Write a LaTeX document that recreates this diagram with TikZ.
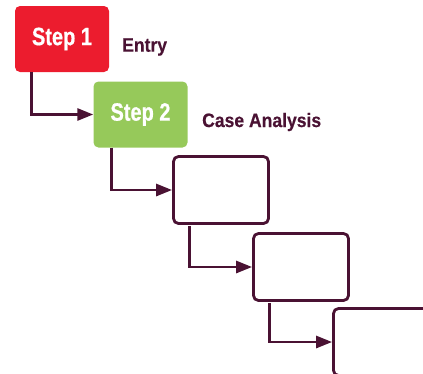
\documentclass[tikz,border=0pt]{standalone}
\usepackage{fontspec}
\setmainfont{Liberation Sans}
\newfontfamily\stepfont[FakeStretch=0.8,FakeBold=0.6]{Liberation Sans Bold}
\newfontfamily\labelfont[FakeStretch=0.9,FakeBold=0.4]{Liberation Sans Bold}
\usetikzlibrary{arrows.meta}
\definecolor{stepred}{HTML}{EC1C2E}
\definecolor{stepgreen}{HTML}{96C95A}
\definecolor{wine}{HTML}{4A1233}
\tikzset{
  stepbox/.style={rounded corners=5pt, minimum width=94pt, minimum height=66pt,
    inner sep=0pt, text=white, font=\stepfont\fontsize{25}{25}\selectfont},
  emptybox/.style={draw=wine, line width=2.8pt, rounded corners=5pt, fill=white,
    minimum width=95pt, minimum height=67pt, inner sep=0pt},
  flow/.style={draw=wine, line width=2.8pt, -{Triangle[length=16pt,width=12pt]}},
  caption/.style={text=wine, anchor=west, inner sep=0pt,
    font=\labelfont\fontsize{19.5}{19.5}\selectfont},
}
\begin{document}
\begin{tikzpicture}[x=1pt,y=-1pt]
  \useasboundingbox (0,0) rectangle (423,373);
  \clip (0,0) rectangle (423,373);
  % coloured step boxes
  \node[stepbox, fill=stepred]   (s1) at (62,39)   {Step 1};
  \node[stepbox, fill=stepgreen] (s2) at (140.5,114.5) {Step 2};
  % outlined boxes for the remaining steps
  \node[emptybox] (s3) at (221,190) {};
  \node[emptybox] (s4) at (301,267) {};
  \node[emptybox] (s5) at (381,342) {};
  % captions
  \node[caption] (c1) at (122,47) {Entry};
  \node[caption] (c2) at (202,122) {Case Analysis};
  % elbow connectors
  \draw[flow] (s1.south west) ++(17,0) coordinate (a1) |- (s2.west);
  \draw[flow] (s2.south west) ++(18,0) coordinate (a2) |- (s3.west);
  \draw[flow] (s3.south west) ++(17,1) coordinate (a3) |- (s4.west);
  \draw[flow] (s4.south west) ++(17,1) coordinate (a4) |- (s5.west);
\end{tikzpicture}
\end{document}
